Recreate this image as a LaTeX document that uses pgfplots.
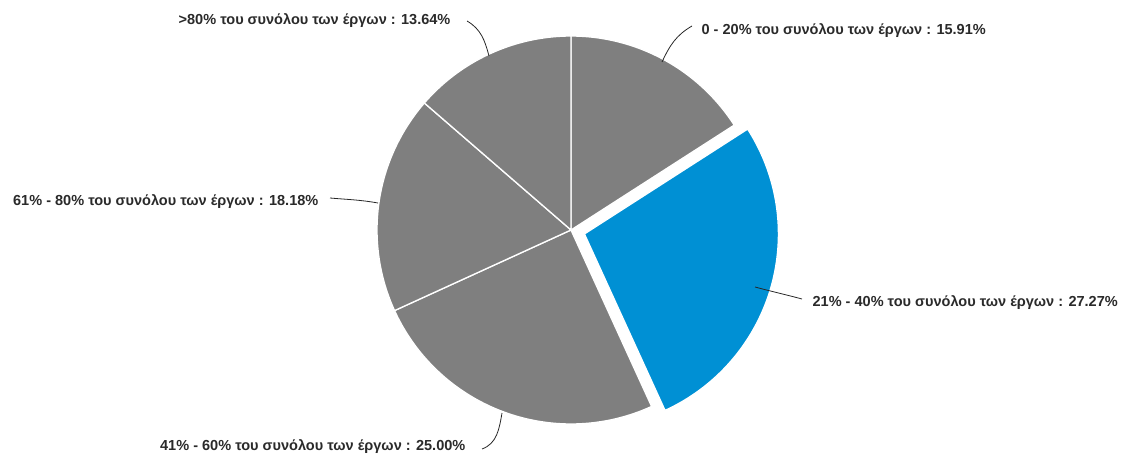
\documentclass[border=0pt]{standalone}
\usepackage{pgfplots}
\pgfplotsset{compat=1.18}
\usepackage{fontspec}
\setmainfont{Liberation Sans}
\definecolor{sgray}{HTML}{7F7F7F}
\definecolor{sblue}{HTML}{0090D4}
\definecolor{txt}{HTML}{2A2A2A}
% data (percent of projects)
\def\pA{15.91}
\def\pB{27.27}
\def\pC{25.00}
\def\pD{18.18}
\def\pE{13.64}
\pgfmathsetmacro\aA{90}
\pgfmathsetmacro\aB{\aA-3.6*\pA}
\pgfmathsetmacro\aC{\aB-3.6*\pB}
\pgfmathsetmacro\aD{\aC-3.6*\pC}
\pgfmathsetmacro\aE{\aD-3.6*\pD}
\pgfmathsetmacro\aF{\aE-3.6*\pE}
\pgfmathsetmacro\mB{(\aB+\aC)/2}
\pgfmathsetmacro\bx{571+14*cos(\mB)}
\pgfmathsetmacro\by{231+14*sin(\mB)}
\tikzset{lbl/.style={font=\bfseries\fontsize{10.9}{12}\selectfont, text=txt, inner sep=1pt}}
\begin{document}
\begin{tikzpicture}
\begin{axis}[x=0.75pt,y=0.75pt,xmin=0,xmax=1123,ymin=0,ymax=461,
  hide axis, clip=false]
\path (axis cs:0,0) (axis cs:1123,461);
% slices
\addplot[fill=sgray, draw=white, line width=1pt, domain=\aB:\aA, samples=80, variable=\t]
  ({571+194*cos(\t)},{231+194*sin(\t)}) -- (axis cs:571,231) -- cycle;
\addplot[fill=sgray, draw=white, line width=1pt, domain=\aD:\aC, samples=80, variable=\t]
  ({571+194*cos(\t)},{231+194*sin(\t)}) -- (axis cs:571,231) -- cycle;
\addplot[fill=sgray, draw=white, line width=1pt, domain=\aE:\aD, samples=80, variable=\t]
  ({571+194*cos(\t)},{231+194*sin(\t)}) -- (axis cs:571,231) -- cycle;
\addplot[fill=sgray, draw=white, line width=1pt, domain=\aF:\aE, samples=80, variable=\t]
  ({571+194*cos(\t)},{231+194*sin(\t)}) -- (axis cs:571,231) -- cycle;
\addplot[fill=sblue, draw=white, line width=1pt, domain=\aC:\aB, samples=80, variable=\t]
  ({\bx+194*cos(\t)},{\by+194*sin(\t)}) -- (axis cs:\bx,\by) -- cycle;
% leader lines
\draw[black!85, line width=0.6pt] (axis cs:662,399) to[out=65,in=210] (axis cs:692,435);
\draw[black!85, line width=0.6pt] (axis cs:755,174) to[out=-15,in=165] (axis cs:802,162);
\draw[black!85, line width=0.6pt] (axis cs:502,48) to[out=-100,in=20] (axis cs:482,12);
\draw[black!85, line width=0.6pt] (axis cs:378,258) to[out=170,in=-5] (axis cs:330,263);
\draw[black!85, line width=0.6pt] (axis cs:489,405) to[out=105,in=-30] (axis cs:467,440);
% labels
\node[lbl, anchor=west] at (axis cs:700,430) {0 - 20\% του συνόλου των έργων : 15.91\%};
\node[lbl, anchor=west] at (axis cs:811,158) {21\% - 40\% του συνόλου των έργων : 27.27\%};
\node[lbl, anchor=east] at (axis cs:467,14) {41\% - 60\% του συνόλου των έργων : 25.00\%};
\node[lbl, anchor=east] at (axis cs:320,259) {61\% - 80\% του συνόλου των έργων : 18.18\%};
\node[lbl, anchor=east] at (axis cs:452,440) {>80\% του συνόλου των έργων : 13.64\%};
\end{axis}
\end{tikzpicture}
\end{document}
